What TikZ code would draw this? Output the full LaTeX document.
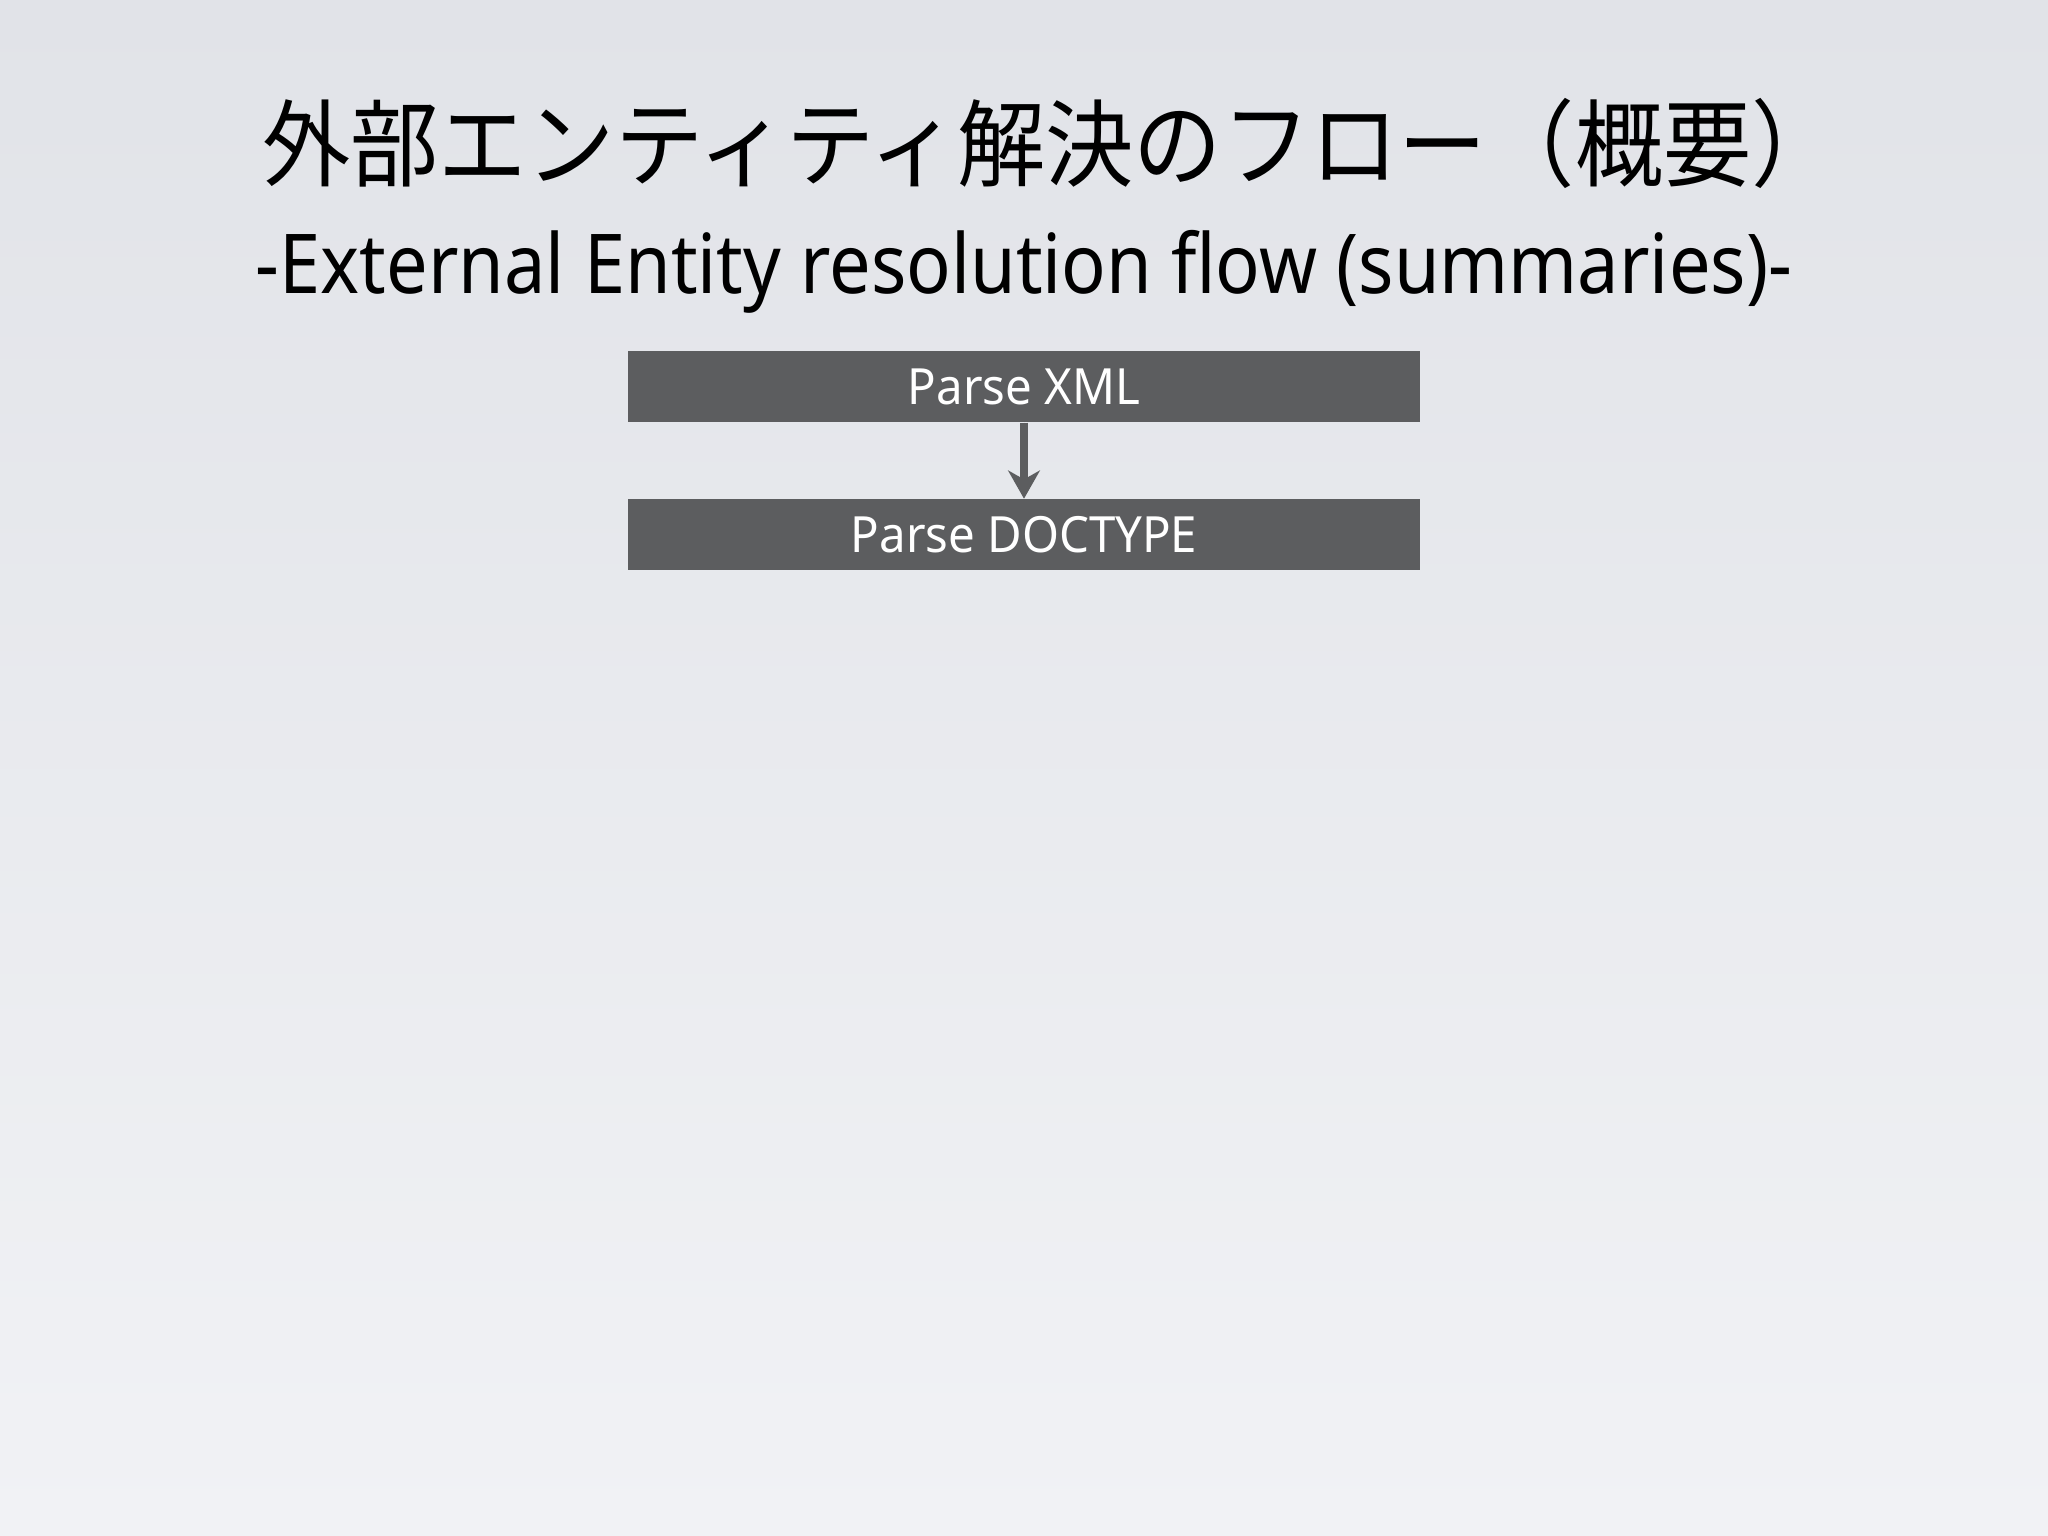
\documentclass[tikz,border=0pt]{standalone}
\usepackage{fontspec}
\setmainfont{Noto Sans}
\newfontfamily\jpfont{Noto Sans CJK JP}
\usepackage{tikz}
\usetikzlibrary{arrows.meta}
\usetikzlibrary{positioning}

\definecolor{bgtop}{HTML}{E1E3E8}
\definecolor{bgbottom}{HTML}{F1F2F5}
\definecolor{stepfill}{HTML}{5C5D5F}

\begin{document}
\begin{tikzpicture}

\tikzstyle{stepbox}=[rectangle,fill={stepfill},text={white},minimum width={7.92cm},minimum height={0.71cm},inner sep={0pt},font={\fontsize{14.2pt}{16pt}\selectfont}]
\tikzstyle{flowarrow}=[-{Stealth[length=8pt,width=9pt,inset=2.5pt]},line width={2pt},draw={stepfill},fill={stepfill}]

% background

\shade [top color={bgtop},bottom color={bgbottom}] (0,0) rectangle (20.48,-15.36) ;
\useasboundingbox (0,0) rectangle (20.48,-15.36) ;

% titles

\node at (10.51,-1.43) [anchor={center},inner sep={0pt}] (T) {\jpfont\fontsize{27pt}{30pt}\selectfont\scalebox{0.93}[1]{外部エンティティ解決のフロー（概要）}} ;
\node at (10.24,-2.94) [anchor={base},inner sep={0pt}] (ST) {\fontsize{23.5pt}{26pt}\selectfont\scalebox{0.895}[1]{-External Entity resolution flow (summaries)-}} ;

% steps

\node at (10.24,-3.865) [stepbox] (P1) {\scalebox{0.95}[1]{Parse XML}} ;
\node [stepbox,below={0.76cm of P1}] (P2) {\scalebox{0.95}[1]{Parse DOCTYPE}} ;

% connections

\draw [flowarrow] (P1.south) -- (P2.north) ;

\end{tikzpicture}
\end{document}
